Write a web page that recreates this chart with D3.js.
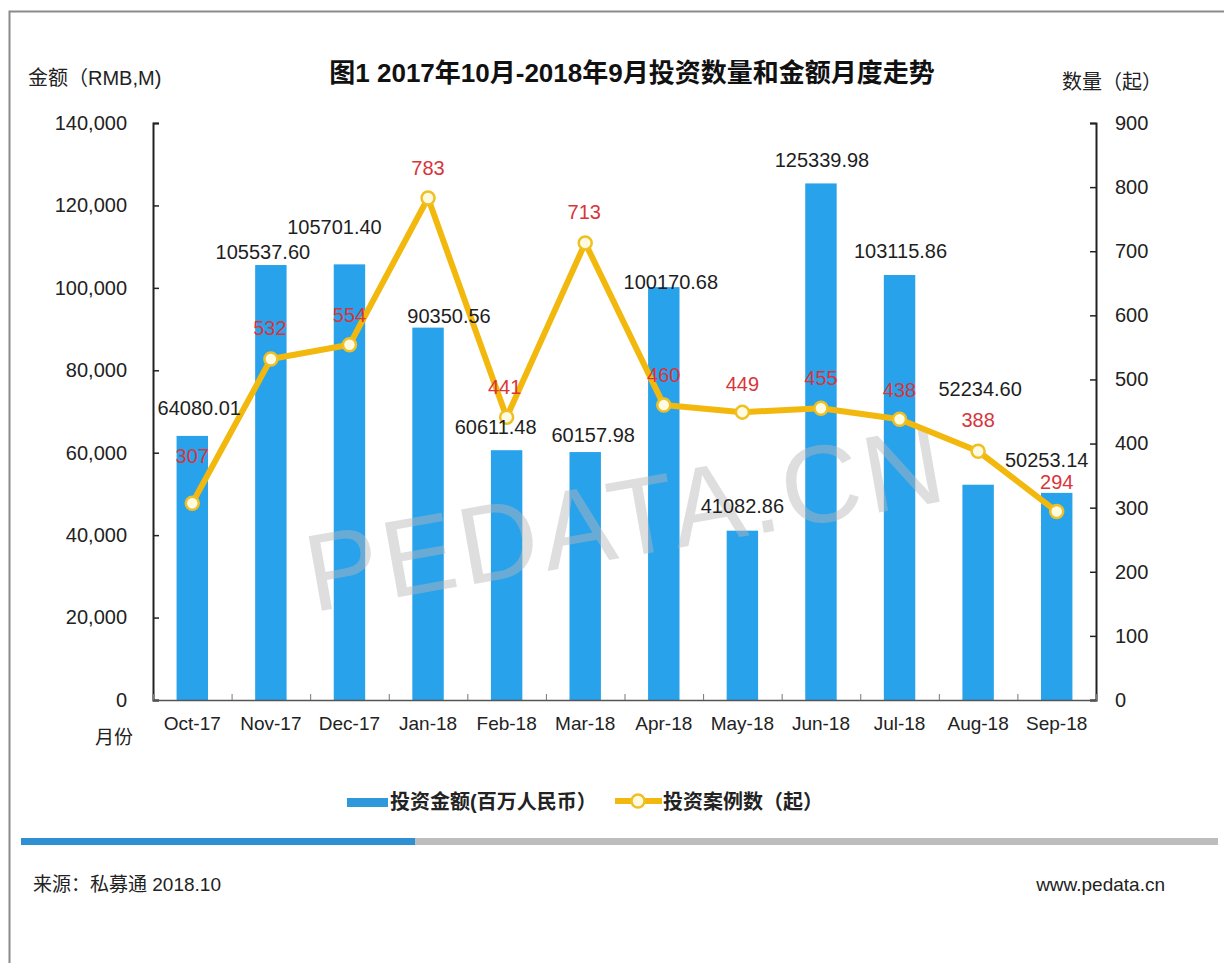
<!DOCTYPE html>
<html>
<head>
<meta charset="utf-8">
<script src="https://cdn.jsdelivr.net/npm/d3@7"></script>
<style>
  body { margin: 0; background: #fff; }
  svg { display: block; font-family: "Liberation Sans", Arial, "Noto Sans CJK SC", sans-serif; }
</style>
</head>
<body>
<svg id="chart" width="1224" height="963"></svg>
<script>
const months = ['Oct-17', 'Nov-17', 'Dec-17', 'Jan-18', 'Feb-18', 'Mar-18', 'Apr-18', 'May-18', 'Jun-18', 'Jul-18', 'Aug-18', 'Sep-18']
const amounts = [64080.01, 105537.60, 105701.40, 90350.56, 60611.48, 60157.98, 100170.68, 41082.86, 125339.98, 103115.86, 52234.60, 50253.14]
const counts = [307, 532, 554, 783, 441, 713, 460, 449, 455, 438, 388, 294]
const leftTicks = [0, 20000, 40000, 60000, 80000, 100000, 120000, 140000]
const rightTicks = [0, 100, 200, 300, 400, 500, 600, 700, 800, 900]

// hand placed label nudges from the original (px, [dx, dy above top])
const amountNudge = [[7, 28], [-8, 13], [-15, 37], [21, 12], [-11, 23], [8, 17], [7, 5], [0, 25], [1, 23], [1, 24], [2, 96], [-10, 33]]
const countNudge = [[0, 47], [-1, 31], [0, 30], [0, 30], [-2, 30], [-1, 31], [0, 30], [0, 28], [0, 30], [0, 29], [0, 31], [0, 30]]

const svg = d3.select('#chart')
const margin = {left: 153, right: 1224 - 1096, top: 123, bottom: 963 - 700}
const W = 1224, H = 963

const barColor = '#29a2ec'
const lineColor = '#f3b80d'
const redText = '#d8353b'

// frame
svg.append('path')
  .attr('d', `M9.5,${H} V11.5 H${W}`)
  .attr('fill', 'none')
  .attr('stroke', '#8a8a8a')
  .attr('stroke-width', 2)

const x = d3.scaleBand().domain(months).range([margin.left, W - margin.right]).paddingInner(0.6).paddingOuter(0.3)
const xEdges = d3.scaleLinear().domain([0, months.length]).range([margin.left, W - margin.right])
const yL = d3.scaleLinear().domain([0, 140000]).range([H - margin.bottom, margin.top])
const yR = d3.scaleLinear().domain([0, 900]).range([H - margin.bottom, margin.top])

// title + axis titles
svg.append('text')
  .attr('x', 632).attr('y', 73)
  .attr('text-anchor', 'middle').attr('dominant-baseline', 'central')
  .attr('font-size', 26).attr('font-weight', 'bold').attr('fill', '#111')
  .text('图1 2017年10月-2018年9月投资数量和金额月度走势')
svg.append('text')
  .attr('x', 28).attr('y', 78).attr('dominant-baseline', 'central')
  .attr('font-size', 20).attr('fill', '#222')
  .text('金额（RMB,M)')
svg.append('text')
  .attr('x', 1162).attr('y', 82).attr('dominant-baseline', 'central').attr('text-anchor', 'end')
  .attr('font-size', 20).attr('fill', '#222')
  .text('数量（起）')

// bars
svg.append('g').selectAll('rect')
  .data(amounts)
  .join('rect')
  .attr('x', (d, i) => x(months[i]))
  .attr('y', d => yL(d))
  .attr('width', x.bandwidth())
  .attr('height', d => yL(0) - yL(d))
  .attr('fill', barColor)

// watermark
svg.append('text')
  .attr('transform', 'translate(626,518) rotate(-10)')
  .attr('text-anchor', 'middle').attr('dominant-baseline', 'central')
  .attr('font-size', 110).attr('fill', '#b8b8b8').attr('opacity', 0.45)
  .attr('letter-spacing', 4)
  .text('PEDATA.CN')

// axes
const axisL = svg.append('g')
  .attr('transform', `translate(${margin.left},0)`)
  .call(d3.axisLeft(yL).tickValues(leftTicks).tickFormat(d3.format(',')).tickSizeInner(-6).tickSizeOuter(-6).tickPadding(26))
const axisR = svg.append('g')
  .attr('transform', `translate(${W - margin.right},0)`)
  .call(d3.axisRight(yR).tickValues(rightTicks).tickSizeInner(-6).tickSizeOuter(-6).tickPadding(19))
const axisB = svg.append('g')
  .attr('transform', `translate(0,${H - margin.bottom})`)
  .call(d3.axisBottom(xEdges).ticks(12).tickSize(-6).tickFormat(''))
const axisBLabels = svg.append('g')
  .attr('transform', `translate(0,${H - margin.bottom})`)
  .call(d3.axisBottom(x).tickSize(0).tickPadding(17))
axisBLabels.select('.domain').remove()

for (const g of [axisL, axisR]) {
  g.select('.domain').attr('stroke', '#222').attr('stroke-width', 2)
  g.selectAll('.tick line').attr('stroke', '#222').attr('stroke-width', 1.5)
}
axisB.select('.domain').attr('stroke', '#555').attr('stroke-width', 1.5)
axisB.selectAll('.tick line').attr('stroke', '#777').attr('stroke-width', 1)
svg.selectAll('.tick text').attr('font-size', 20).attr('fill', '#222').attr('font-family', null)
axisBLabels.selectAll('.tick text').attr('font-size', 19)

svg.append('text')
  .attr('x', 114).attr('y', 737)
  .attr('text-anchor', 'middle').attr('dominant-baseline', 'central')
  .attr('font-size', 19).attr('fill', '#222')
  .text('月份')

// line
const cx = (d, i) => x(months[i]) + x.bandwidth() / 2
svg.append('path')
  .datum(counts)
  .attr('d', d3.line().x(cx).y(d => yR(d)))
  .attr('fill', 'none')
  .attr('stroke', lineColor)
  .attr('stroke-width', 6)
  .attr('stroke-linejoin', 'round')

svg.append('g').selectAll('circle')
  .data(counts)
  .join('circle')
  .attr('cx', cx)
  .attr('cy', d => yR(d))
  .attr('r', 6.5)
  .attr('fill', '#fffbe2')
  .attr('stroke', '#efc022')
  .attr('stroke-width', 2.5)

// value labels
svg.append('g').selectAll('text')
  .data(amounts)
  .join('text')
  .attr('x', (d, i) => cx(d, i) + amountNudge[i][0])
  .attr('y', (d, i) => yL(d) - amountNudge[i][1])
  .attr('text-anchor', 'middle').attr('dominant-baseline', 'central')
  .attr('font-size', 20).attr('fill', '#1e1e1e')
  .text(d => d.toFixed(2))

svg.append('g').selectAll('text')
  .data(counts)
  .join('text')
  .attr('x', (d, i) => cx(d, i) + countNudge[i][0])
  .attr('y', (d, i) => yR(d) - countNudge[i][1])
  .attr('text-anchor', 'middle').attr('dominant-baseline', 'central')
  .attr('font-size', 20).attr('fill', redText)
  .text(d => d)

// legend
const legend = svg.append('g')
legend.append('rect')
  .attr('x', 347).attr('y', 798).attr('width', 41).attr('height', 9)
  .attr('fill', '#2f98dc')
legend.append('text')
  .attr('x', 390).attr('y', 802).attr('dominant-baseline', 'central')
  .attr('font-size', 20).attr('font-weight', 'bold').attr('fill', '#222')
  .text('投资金额(百万人民币）')
legend.append('line')
  .attr('x1', 615).attr('x2', 662).attr('y1', 801).attr('y2', 801)
  .attr('stroke', lineColor).attr('stroke-width', 6)
legend.append('circle')
  .attr('cx', 638).attr('cy', 801).attr('r', 6.5)
  .attr('fill', '#fffbe2').attr('stroke', '#efc022').attr('stroke-width', 2.5)
legend.append('text')
  .attr('x', 663).attr('y', 802).attr('dominant-baseline', 'central')
  .attr('font-size', 20).attr('font-weight', 'bold').attr('fill', '#222')
  .text('投资案例数（起）')

// separator
svg.append('rect').attr('x', 21).attr('y', 838).attr('width', 394).attr('height', 7).attr('fill', '#2e8fd3')
svg.append('rect').attr('x', 415).attr('y', 838).attr('width', 1218 - 415).attr('height', 7).attr('fill', '#bdbdbd')

// footer
svg.append('text')
  .attr('x', 33).attr('y', 884).attr('dominant-baseline', 'central')
  .attr('font-size', 19).attr('fill', '#222')
  .text('来源：私募通 2018.10')
svg.append('text')
  .attr('x', 1165).attr('y', 884).attr('dominant-baseline', 'central').attr('text-anchor', 'end')
  .attr('font-size', 19).attr('fill', '#222')
  .text('www.pedata.cn')
</script>
</body>
</html>
